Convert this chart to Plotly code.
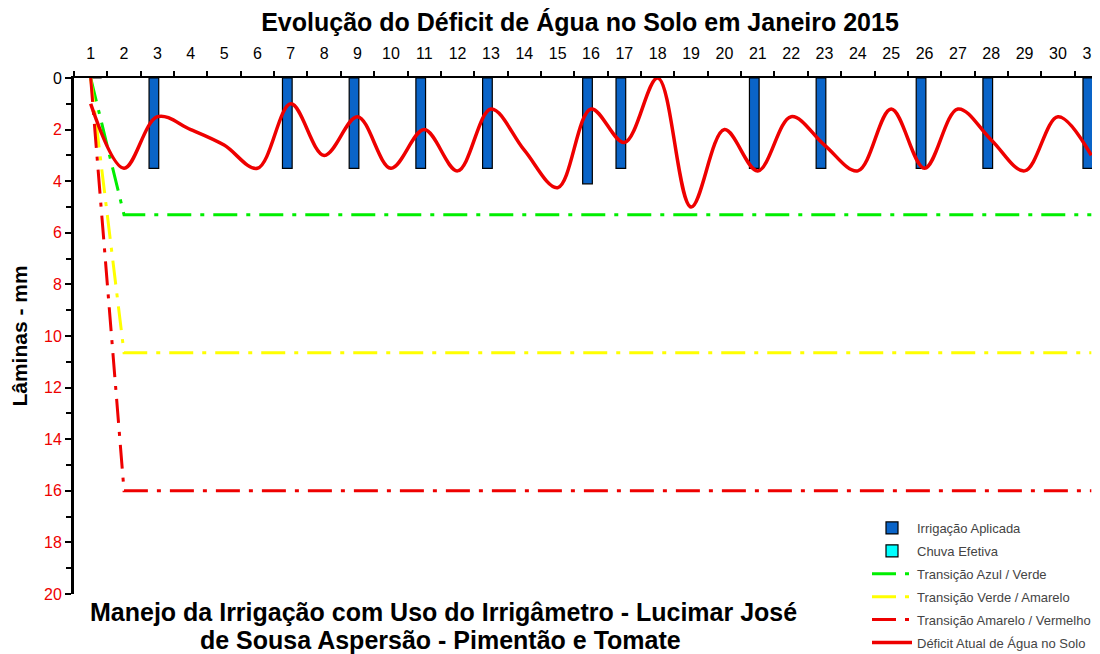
import plotly.graph_objects as go

days = list(range(1, 32))
deficit = [1.0, 3.5, 1.5, 2.0, 2.6, 3.5, 1.0, 3.0, 1.5, 3.5, 2.0, 3.6, 1.2, 2.8, 4.25,
           1.2, 2.5, 0.0, 5.0, 2.0, 3.6, 1.5, 2.6, 3.6, 1.2, 3.5, 1.2, 2.4, 3.6, 1.5, 3.0]
irr_days = [3, 7, 9, 11, 13, 16, 17, 21, 23, 26, 28, 31]
irr_vals = [3.5, 3.5, 3.5, 3.5, 3.5, 4.1, 3.5, 3.5, 3.5, 3.5, 3.5, 3.5]
rain_days = [1]
rain_vals = [0.0]
thr_days = [1, 2, 31]
thr_azul_verde = [0.0, 5.3, 5.3]
thr_verde_amarelo = [0.0, 10.65, 10.65]
thr_amarelo_vermelho = [0.0, 16.0, 16.0]
y_ticks = list(range(0, 21, 2))

FONT = "Liberation Sans, Arial, sans-serif"
DASH = "24px,9px,4px,9px"

# page offset of the figure (browser body margin)
OFF = 8
PL, PT, PB = 74, 78, 594          # plot area in page pixels
PW = 1100 + OFF - PL              # plot width (extends past the window edge)
PH = PB - PT


def px(x):
    return (x - PL) / PW


def py(y):
    return (PB - y) / PH


fig = go.Figure()
fig.add_trace(go.Bar(x=irr_days, y=irr_vals, name="Irrigação Aplicada", width=0.29, offset=-0.25,
                     marker=dict(color="#0A64C8", line=dict(color="black", width=1.2)),
                     legendgroup="a"))
fig.add_trace(go.Bar(x=rain_days, y=rain_vals, name="Chuva Efetiva", width=0.29, offset=0.04,
                     marker=dict(color="#00FFFF", line=dict(color="black", width=1.2)),
                     legendgroup="b"))
fig.add_trace(go.Scatter(x=thr_days, y=thr_azul_verde, mode="lines", name="Transição Azul / Verde",
                         line=dict(color="#00EE00", width=3, dash=DASH), legendgroup="c"))
fig.add_trace(go.Scatter(x=thr_days, y=thr_verde_amarelo, mode="lines", name="Transição Verde / Amarelo",
                         line=dict(color="#FFFF00", width=3, dash=DASH), legendgroup="d"))
fig.add_trace(go.Scatter(x=thr_days, y=thr_amarelo_vermelho, mode="lines", name="Transição Amarelo / Vermelho",
                         line=dict(color="#EE0000", width=3, dash=DASH), legendgroup="e"))
fig.add_trace(go.Scatter(x=days, y=deficit, mode="lines", name="Déficit Atual de Água no Solo",
                         line=dict(color="#EE0000", width=3.5, shape="spline", smoothing=1.0),
                         legendgroup="f"))

tick_text = ['<span style="color:black">0</span>'] + [str(v) for v in y_ticks[1:]]

fig.update_layout(
    width=1100, height=654,
    margin=dict(l=PL - OFF, r=0, t=PT - OFF, b=654 - (PB - OFF), autoexpand=False),
    paper_bgcolor="white", plot_bgcolor="white",
    font=dict(family=FONT, color="black"),
    barmode="overlay",
    title=dict(text="<b>Evolução do Déficit de Água no Solo em Janeiro 2015</b>",
               xref="paper", x=px(580), xanchor="center",
               y=1 - (22 - OFF) / 654, yanchor="middle",
               font=dict(size=25, family=FONT, color="black")),
    xaxis=dict(side="top", range=[0.5, 31.5], tickvals=days, ticktext=[str(d) for d in days],
               ticks="", showgrid=False, zeroline=False, showline=True, linecolor="black", linewidth=2,
               tickfont=dict(size=16, family=FONT, color="black"), ticklabelstandoff=11,
               ticklabeloverflow="allow", automargin=False,
               minor=dict(ticks="outside", tick0=0.5, dtick=1, ticklen=5, tickwidth=2, tickcolor="black")),
    yaxis=dict(range=[20, 0], tickvals=y_ticks, ticktext=tick_text, ticks="outside", ticklen=6,
               tickwidth=2, tickcolor="black", showgrid=False, zeroline=False, showline=True,
               linecolor="black", linewidth=3, automargin=False,
               tickfont=dict(size=16, family=FONT, color="#EE0000"),
               minor=dict(ticks="outside", tick0=1, dtick=2, ticklen=5, tickwidth=2, tickcolor="black"),
               title=dict(text="<b>Lâminas - mm</b>", font=dict(size=21, family=FONT, color="black"),
                          standoff=14)),
    legend=dict(x=px(867), y=py(513), xanchor="left", yanchor="top", bgcolor="rgba(0,0,0,0)",
                font=dict(size=13, family=FONT, color="#444444"), itemwidth=40, tracegroupgap=3,
                traceorder="grouped"),
    annotations=[
        dict(text="<b>Manejo da Irrigação com Uso do Irrigâmetro - Lucimar José</b>",
             xref="paper", yref="paper", x=px(443), y=py(612),
             xanchor="center", yanchor="middle", showarrow=False,
             font=dict(size=25, family=FONT, color="black")),
        dict(text="<b>de Sousa Aspersão - Pimentão e Tomate</b>",
             xref="paper", yref="paper", x=px(440), y=py(640),
             xanchor="center", yanchor="middle", showarrow=False,
             font=dict(size=25, family=FONT, color="black")),
    ],
)

fig.write_html("out.html")
